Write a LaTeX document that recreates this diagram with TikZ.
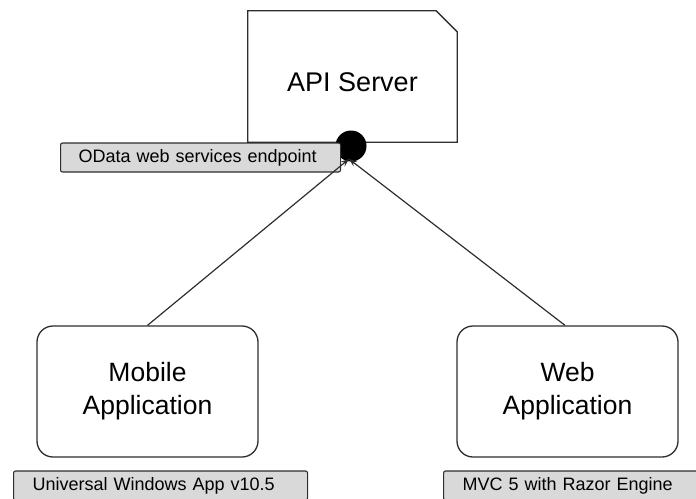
\documentclass[tikz,border=0pt]{standalone}
\usepackage{fontspec}
\setmainfont{Liberation Sans}
\usetikzlibrary{arrows.meta,calc}
\definecolor{edge}{HTML}{2E2E2E}
\definecolor{tag}{HTML}{D9D9D9}
\begin{document}
\begin{tikzpicture}[x=1pt,y=-1pt,
  appbox/.style={draw=edge,line width=1.3pt,fill=white,rounded corners=16pt,
    minimum width=221pt,minimum height=131pt,align=center,
    font=\fontsize{26.5}{33}\selectfont},
  tagbox/.style={draw=edge,line width=1.1pt,fill=tag,rounded corners=2pt,
    minimum height=29pt,inner ysep=0pt,anchor=west,text width=#1,
    font=\fontsize{18}{20}\selectfont},
  link/.style={draw=edge,line width=1.2pt,-{Stealth[length=8pt,width=6pt]}}]
\useasboundingbox (0,0) rectangle (696,498);

% server box with a cut top-right corner
\node[minimum width=209pt,minimum height=131pt,inner sep=0pt] (api) at (352.5,76.5) {};
\draw[edge,line width=1.3pt,fill=white]
  (api.north west) -- ($(api.north east)+(-21,0)$) -- ($(api.north east)+(0,21)$)
  -- (api.south east) -- (api.south west) -- cycle;
\node[font=\fontsize{27}{30}\selectfont] (apitext) at ([yshift=-5.5pt]api.center) {API Server};

% service endpoint
\node[circle,fill=black,minimum size=31pt,inner sep=0pt] (port) at (351,146) {};
\coordinate (tip) at (349,159);
\node[tagbox=244pt,inner xsep=18pt] (odata) at (60,157.5) {OData web services endpoint};

% client applications
\node[appbox] (mob) at (147.5,391.5) {Mobile\\Application};
\node[appbox] (web) at (567.5,391.5) {Web\\Application};

\node[tagbox=256pt,inner xsep=19pt] (uwp) at (13,485.5) {Universal Windows App v10.5};
\node[tagbox=244pt,inner xsep=19pt] (mvc) at (443,485.5) {MVC 5 with Razor Engine};

% calls to the endpoint
\draw[link] (mob.north) -- (tip);
\draw[link] ([xshift=-2.5pt]web.north) -- (tip);
\end{tikzpicture}
\end{document}
